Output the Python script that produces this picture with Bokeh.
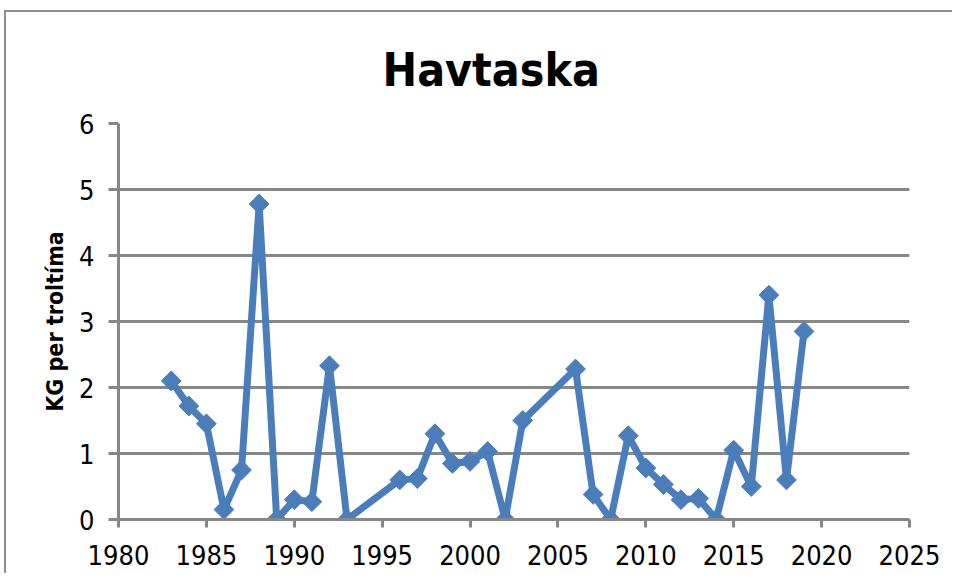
import numpy as np
from bokeh.plotting import figure
from bokeh.models import Range1d, FixedTicker
from bokeh.embed import file_html
from bokeh.resources import INLINE

# Data
years = [1983, 1984, 1985, 1986, 1987, 1988, 1989, 1990, 1991, 1992, 1993,
         1996, 1997, 1998, 1999, 2000, 2001, 2002, 2003,
         2006, 2007, 2008, 2009, 2010, 2011, 2012, 2013, 2014, 2015,
         2016, 2017, 2018, 2019]
kg_per_haul = [2.10, 1.72, 1.45, 0.15, 0.75, 4.78, 0.00, 0.30, 0.27, 2.33, 0.00,
               0.60, 0.62, 1.30, 0.85, 0.88, 1.03, 0.00, 1.50,
               2.28, 0.38, 0.00, 1.27, 0.78, 0.53, 0.30, 0.32, 0.00, 1.05,
               0.50, 3.40, 0.60, 2.85]
x_ticks = [1980, 1985, 1990, 1995, 2000, 2005, 2010, 2015, 2020, 2025]
y_ticks = [0, 1, 2, 3, 4, 5, 6]
title_text = "Havtaska"
y_label = "KG per troltíma"

GRAY = "#878787"
BLUE = "#4a7ebb"
FONT = "'DejaVu Sans Condensed', 'Liberation Sans Narrow', 'DejaVu Sans'"

p = figure(width=948, height=563, output_backend="svg", toolbar_location=None,
           x_range=Range1d(1980, 2025), y_range=Range1d(0, 6),
           min_border_left=112, min_border_top=111,
           min_border_right=45, min_border_bottom=56)
p.styles = {"margin-left": "4px", "margin-top": "10px",
            "border-top": "2px solid #8e8e8e", "border-left": "2px solid #8e8e8e"}

p.title.text = title_text
p.title.align = "left"
p.title.offset = 264
p.title.vertical_align = "top"
p.title.standoff = 50
p.title.text_font = FONT
p.title.text_font_size = "46px"
p.title.text_font_style = "bold"
p.title.text_color = "black"

p.outline_line_color = None
p.background_fill_color = "white"
p.border_fill_color = "white"

p.xgrid.grid_line_color = None
p.ygrid.grid_line_color = GRAY
p.ygrid.grid_line_width = 3

for ax in (p.xaxis[0], p.yaxis[0]):
    ax.axis_line_color = GRAY
    ax.axis_line_width = 3
    ax.major_tick_line_color = GRAY
    ax.major_tick_line_width = 3
    ax.major_tick_in = 0
    ax.minor_tick_line_color = None
    ax.major_label_text_font = FONT
    ax.major_label_text_font_size = "27px"
    ax.major_label_text_color = "black"

p.xaxis.ticker = FixedTicker(ticks=x_ticks)
p.yaxis.ticker = FixedTicker(ticks=y_ticks)
p.xaxis.major_tick_out = 8
p.yaxis.major_tick_out = 10
p.xaxis.major_label_standoff = 17
p.yaxis.major_label_standoff = 14

p.yaxis.axis_label = y_label
p.yaxis.axis_label_text_font = FONT
p.yaxis.axis_label_text_font_size = "23px"
p.yaxis.axis_label_text_font_style = "bold"
p.yaxis.axis_label_text_color = "black"
p.yaxis.axis_label_standoff = 8

p.line(years, kg_per_haul, line_color=BLUE, line_width=7)
p.scatter(years, kg_per_haul, marker="square", angle=np.pi / 4, size=14,
          fill_color=BLUE, line_color=BLUE)

open("out.html", "w").write(file_html(p, INLINE))
